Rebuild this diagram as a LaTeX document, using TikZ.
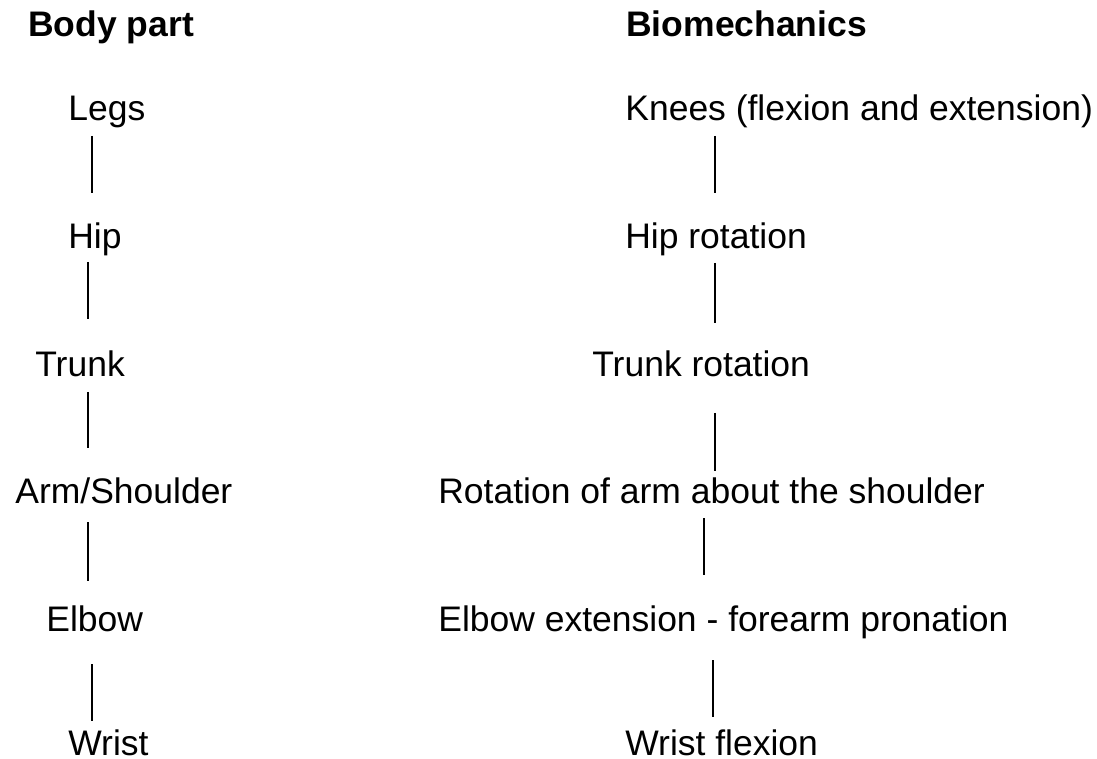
\documentclass[tikz,border=0pt]{standalone}
\usepackage{fontspec}
\setmainfont{Liberation Sans}
\usetikzlibrary{calc}
\tikzset{
  lbl/.style={anchor=base west, inner sep=0pt, font=\fontsize{20.2}{24}\selectfont},
  headlbl/.style={lbl, font=\fontsize{20.2}{24}\selectfont\bfseries},
  linkln/.style={line width=0.8pt, black},
}
\begin{document}
\begin{tikzpicture}[x=0.02cm, y=-0.02cm]
    \useasboundingbox (0,0) rectangle (1097,759);
    % headings
    \node[headlbl] (hdbody) at (28,37) {Body part};
    \node[headlbl] (hdbio) at (626,37) {Biomechanics};
    % body parts
    \node[lbl] (legs) at (68,120.5) {Legs};
    \node[lbl] (hip) at (68,249) {Hip};
    \node[lbl] (trunk) at (35,377) {Trunk};
    \node[lbl] (arm) at (15,503) {Arm/Shoulder};
    \node[lbl] (elbow) at (46,631) {Elbow};
    \node[lbl] (wrist) at (68,755.5) {Wrist};
    % biomechanics
    \node[lbl] (knees) at (625,121) {Knees (flexion and extension)};
    \node[lbl] (hiprot) at (625,249) {Hip rotation};
    \node[lbl] (trunkrot) at (592,377) {Trunk rotation};
    \node[lbl] (armrot) at (438,503) {Rotation of arm about the shoulder};
    \node[lbl] (elbowext) at (438,631) {Elbow extension - forearm pronation};
    \node[lbl] (wristflex) at (625,755.5) {Wrist flexion};
    % body part chain
    \draw[linkln] ($(legs.base west)+(24,15.5)$) -- ($(hip.base west)+(24,-56)$);
    \draw[linkln] ($(hip.base west)+(20,13)$) -- ($(trunk.base west)+(53,-58)$);
    \draw[linkln] ($(trunk.base west)+(53,15)$) -- ($(arm.base west)+(73,-55)$);
    \draw[linkln] ($(arm.base west)+(73,19)$) -- ($(elbow.base west)+(42,-50)$);
    \draw[linkln] ($(elbow.base west)+(46,33)$) -- ($(wrist.base west)+(24,-34.5)$);
    % biomechanics chain
    \draw[linkln] ($(knees.base west)+(90,15)$) -- ($(hiprot.base west)+(90,-56)$);
    \draw[linkln] ($(hiprot.base west)+(90,14)$) -- ($(trunkrot.base west)+(123,-54)$);
    \draw[linkln] ($(trunkrot.base west)+(123,36)$) -- ($(armrot.base west)+(277,-32)$);
    \draw[linkln] ($(armrot.base west)+(266,15)$) -- ($(elbowext.base west)+(266,-56)$);
    \draw[linkln] ($(elbowext.base west)+(275,29)$) -- ($(wristflex.base west)+(88,-38.5)$);
\end{tikzpicture}
\end{document}
